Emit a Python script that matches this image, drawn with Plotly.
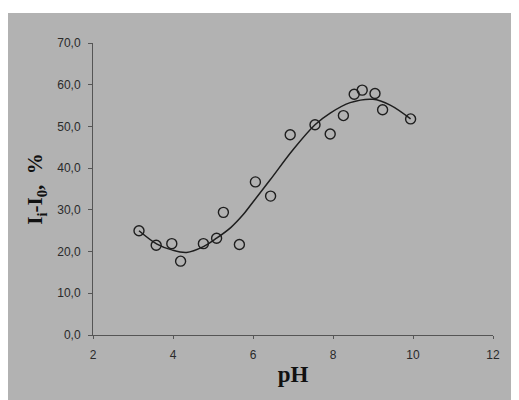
import plotly.graph_objects as go

# measured points
ph_points = [3.15, 3.58, 3.97, 4.19, 4.76, 5.09, 5.26, 5.66, 6.06, 6.44, 6.93, 7.55, 7.93, 8.26, 8.53, 8.73, 9.05, 9.24, 9.94]
delta_points = [25.0, 21.5, 21.9, 17.7, 21.9, 23.2, 29.4, 21.7, 36.7, 33.3, 48.0, 50.4, 48.2, 52.6, 57.7, 58.7, 57.9, 54.0, 51.8]

# fitted curve
ph_curve = [3.15, 3.6, 3.97, 4.34, 4.76, 5.09, 5.45, 5.75, 6.01, 6.43, 7.0, 7.55, 7.93, 8.43, 9.0, 9.43, 9.94]
delta_curve = [25.0, 21.8, 20.4, 19.8, 21.2, 23.2, 25.8, 28.8, 32.0, 37.2, 44.4, 50.4, 53.2, 55.7, 56.5, 55.1, 51.8]

x_ticks = [2, 4, 6, 8, 10, 12]
y_ticks = [0, 10, 20, 30, 40, 50, 60, 70]

fig = go.Figure()
fig.add_trace(go.Scatter(
    x=ph_curve, y=delta_curve, mode="lines",
    line=dict(color="#1e1e1e", width=1.5, shape="spline", smoothing=1.0),
    showlegend=False, hoverinfo="skip"))
fig.add_trace(go.Scatter(
    x=ph_points, y=delta_points, mode="markers",
    marker=dict(symbol="circle-open", size=10, color="#1e1e1e", line=dict(width=1.4)),
    showlegend=False))

gray = "#b2b2b2"
W, H = 511, 392
L, T, PW, PH = 85, 35, 400, 292
fig.update_layout(
    width=W, height=H,
    margin=dict(l=L, r=W - L - PW, t=T, b=H - T - PH),
    paper_bgcolor="white",
    plot_bgcolor="rgba(0,0,0,0)",
    separators=", ",
    shapes=[dict(type="rect", xref="paper", yref="paper", layer="below",
                 x0=(0 - L) / PW, x1=(W + 20 - L) / PW,
                 y0=(T + PH - H - 20) / PH, y1=(T + PH - 5) / PH,
                 fillcolor=gray, line=dict(width=0))],
    xaxis=dict(range=[2, 12], tickvals=x_ticks, showgrid=False, zeroline=False,
               showline=True, linecolor="#555555", linewidth=1,
               ticks="outside", ticklen=3, tickcolor="#555555", ticklabelstandoff=6,
               tickfont=dict(family="Liberation Sans, Arial", size=12, color="#2a2a2a"),
               title=dict(text="<b>pH</b>", standoff=4,
                          font=dict(family="Liberation Serif, Times New Roman", size=23, color="#111111"))),
    yaxis=dict(range=[0, 70], tickvals=y_ticks, tickformat=".1f", showgrid=False, zeroline=False,
               showline=True, linecolor="#555555", linewidth=1,
               ticks="outside", ticklen=4, tickcolor="#555555", ticklabelstandoff=5,
               tickfont=dict(family="Liberation Sans, Arial", size=12, color="#2a2a2a"),
               title=dict(text="<b>I<sub>i</sub>-I<sub>0</sub>,  %</b>", standoff=8,
                          font=dict(family="Liberation Serif, Times New Roman", size=21, color="#111111"))),
)

fig.write_html("out.html")
